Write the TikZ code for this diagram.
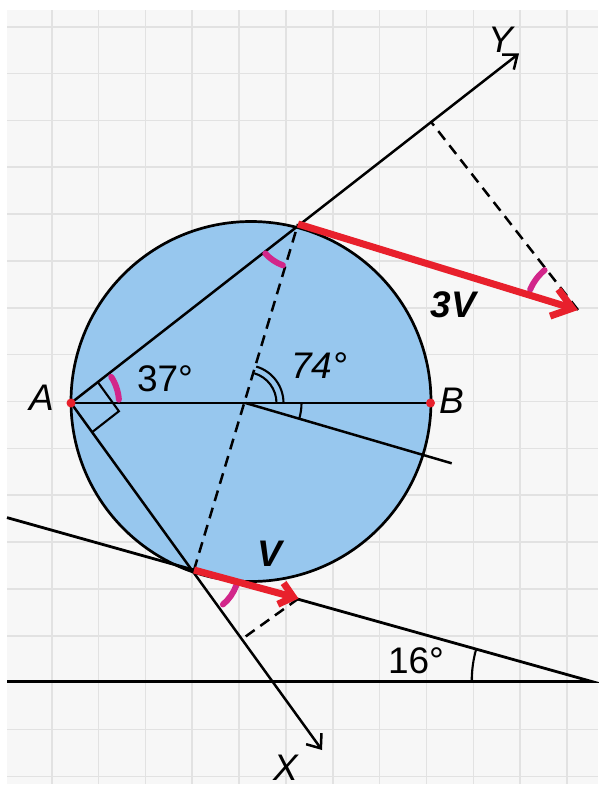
\documentclass[tikz,border=0pt]{standalone}
\usepackage{fontspec}
\setmainfont{Liberation Sans}
\usetikzlibrary{arrows.meta,calc}
\definecolor{gridbg}{HTML}{F7F7F7}
\definecolor{gridln}{HTML}{E2E2E2}
\definecolor{disk}{HTML}{97C7EE}
\definecolor{vred}{HTML}{E8202C}
\definecolor{angpink}{HTML}{D2268A}
\begin{document}
\begin{tikzpicture}[x=1pt,y=-1pt,
  gline/.style={draw=black,line width=2.5pt},
  fline/.style={draw=black,line width=2.1pt},
  dline/.style={draw=black,line width=2.5pt,dash pattern=on 11pt off 7pt},
  axisarrow/.style={gline,-{Straight Barb[length=12pt,width=19pt]}},
  bigvec/.style={draw=vred,line width=7pt,-{Straight Barb[length=19pt,width=28pt]}},
  smallvec/.style={draw=vred,line width=7pt,-{Straight Barb[length=13pt,width=22pt]}},
  pinkarc/.style={draw=angpink,line width=6pt,line cap=round},
  lbl/.style={font=\fontsize{37}{40}\selectfont,inner sep=0pt,anchor=base}]
\useasboundingbox (0,0) rectangle (598,787);
\fill[white] (0,0) rectangle (598,787);
% grid
\fill[gridbg] (7,10) rectangle (598,783.5);
\foreach \i in {0,...,11} \draw[gridln,line width=1.6pt] ({51.7+46.85*\i},10) -- ({51.7+46.85*\i},783.5);
\foreach \j in {0,...,16} \draw[gridln,line width=1.6pt] (7,{26.7+46.85*\j}) -- (598,{26.7+46.85*\j});
% points
\coordinate (A) at (71,403);
\coordinate (B) at (430.5,403);
\coordinate (O) at (245.5,403);
\coordinate (P1) at (298,224);
\coordinate (P2) at (194,570);
\coordinate (Y) at (519,53.5);
\coordinate (X) at (322,750);
\coordinate (T3) at (578,310);
\coordinate (T1) at (298.5,598.5);
\coordinate (F3) at (431,121.8);
\coordinate (F1) at (241.7,639.3);
\coordinate (R) at (451.7,463.3);
\coordinate (K) at (591.7,681.5);
\coordinate (L1) at (7,517.6);
\coordinate (L2) at (7,681.5);
% circle
\filldraw[fill=disk,draw=black,line width=2.7pt] (251,401.5) circle[radius=180];
% lines
\draw[gline] (A) -- (B);
\draw[gline] (O) -- (R);
\draw[dline] (P2) -- (P1);
\draw[axisarrow] (A) -- (Y);
\draw[axisarrow] (A) -- (X);
\draw[gline,line width=2.8pt] (L1) -- (K) -- (L2);
\draw[dline] (T3) -- (F3);
\draw[dline] (T1) -- (F1);
% angle marks
\draw[fline] ($(O)+(0:31)$) arc[start angle=0,end angle=-73.6,radius=31];
\draw[fline] ($(O)+(0:38)$) arc[start angle=0,end angle=-73.6,radius=38];
\draw[fline] ($(O)+(0:56)$) arc[start angle=0,end angle=16.3,radius=56];
\draw[fline] ($(K)+(180:120)$) arc[start angle=180,end angle=195.7,radius=120];
\draw[fline] ($(A)+(-38:34)$) -- ($(A)+(-38:34)+(54.1:36)$) -- ($(A)+(54.1:36)$);
% pink marks
\draw[pinkarc] ($(A)+(-4:48)$) arc[start angle=-4,end angle=-33,radius=48];
\draw[pinkarc] ($(P1)+(110:44)$) arc[start angle=110,end angle=138,radius=44];
\draw[pinkarc] ($(P2)+(20:45)$) arc[start angle=20,end angle=50,radius=45];
\draw[pinkarc] ($(T3)+(-157:52)$) arc[start angle=-157,end angle=-130,radius=52];
% vectors
\draw[bigvec] (P1) -- (T3);
\draw[smallvec] (P2) -- (T1);
% dots
\fill[vred] (A) circle[radius=4.5];
\fill[vred] (B) circle[radius=4.5];
% labels
\node[lbl] (lA) at (41.7,410) {\itshape A};
\node[lbl] (lB) at (451.5,413) {\itshape B};
\node[lbl] (lY) at (501,52) {\itshape Y};
\node[lbl] (lX) at (286,780) {\itshape X};
\node[lbl] (l37) at (165,391) {37°};
\node[lbl] (l74) at (319,378) {\itshape 74°};
\node[lbl] (l16) at (416,673) {16°};
\node[lbl] (l3V) at (453.5,317) {\bfseries\itshape 3V};
\node[lbl] (lV) at (270,566) {\bfseries\itshape V};
\end{tikzpicture}
\end{document}
